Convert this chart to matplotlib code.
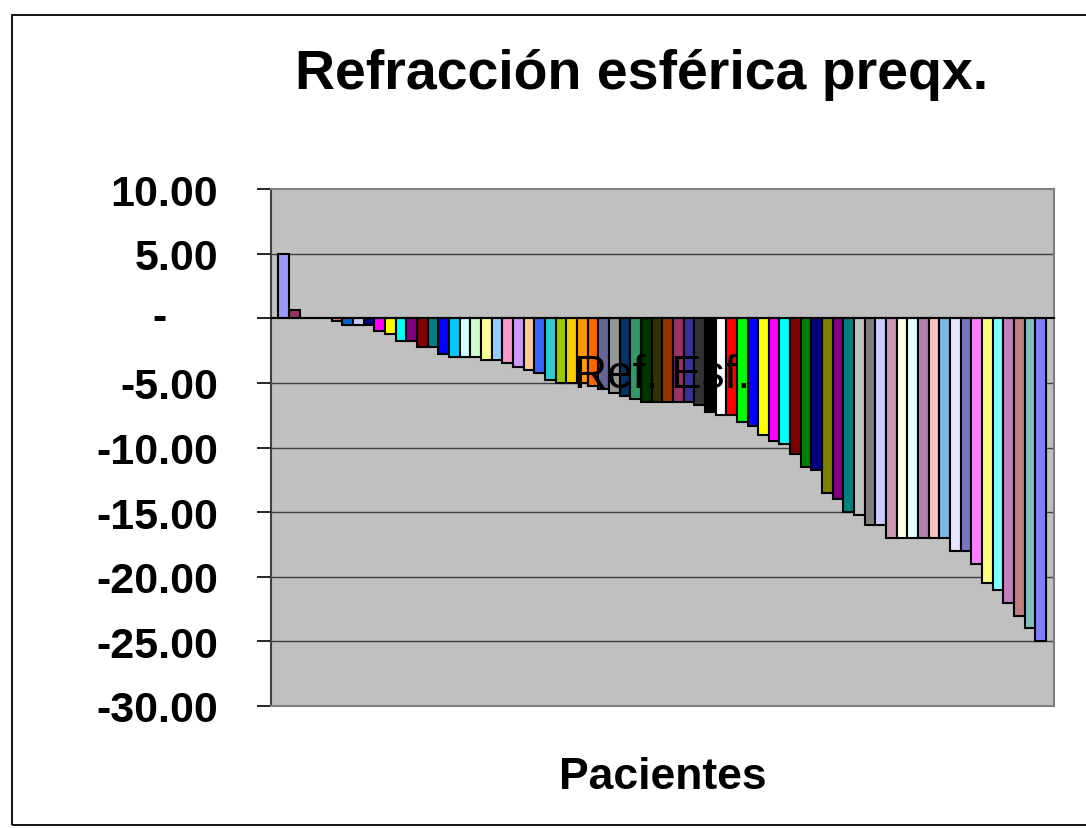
import numpy as np
import matplotlib
matplotlib.use("Agg")
import matplotlib.pyplot as plt
from matplotlib.patches import Rectangle
from matplotlib.transforms import offset_copy

# ---- data -------------------------------------------------------------
title = "Refracción esférica preqx."
x_title = "Pacientes"
category = "Ref. Esf."

# spherical refraction of each patient (dioptres), one series per patient
ref_esf = [
    5.0, 0.6, 0.0, 0.0, 0.0, -0.25, -0.5, -0.5, -0.5, -1.0,
    -1.25, -1.75, -1.75, -2.25, -2.25, -2.75, -3.0, -3.0, -3.0, -3.25,
    -3.25, -3.5, -3.75, -4.0, -4.25, -4.75, -5.0, -5.0, -5.0, -5.25,
    -5.5, -5.75, -6.0, -6.25, -6.5, -6.5, -6.5, -6.5, -6.5, -6.75,
    -7.25, -7.5, -7.5, -8.0, -8.37, -9.0, -9.5, -9.75, -10.5, -11.5,
    -11.75, -13.5, -14.0, -15.0, -15.25, -16.0, -16.0, -17.0, -17.0, -17.0,
    -17.0, -17.0, -17.0, -18.0, -18.0, -19.0, -20.5, -21.0, -22.0, -23.0,
    -24.0, -25.0,
]

series_colors = [
    "#9999FF", "#993366", "#FFFFCC", "#CCFFFF", "#660066", "#FF8080", "#0066CC", "#CCCCFF",
    "#000080", "#FF00FF", "#FFFF00", "#00FFFF", "#800080", "#800000", "#008080", "#0000FF",
    "#00CCFF", "#CCFFFF", "#CCFFCC", "#FFFF99", "#99CCFF", "#FF99CC", "#CC99FF", "#FFCC99",
    "#3366FF", "#33CCCC", "#99CC00", "#FFCC00", "#FF9900", "#FF6600", "#666699", "#969696",
    "#003366", "#339966", "#003300", "#333300", "#993300", "#993366", "#333399", "#333333",
    "#000000", "#FFFFFF", "#FF0000", "#00FF00", "#0000FF", "#FFFF00", "#FF00FF", "#00FFFF",
    "#800000", "#008000", "#000080", "#808000", "#800080", "#008080", "#C0C0C0", "#808080",
    "#CCCCFF", "#CC99B2", "#FFFFE6", "#E6FFFF", "#B07FB0", "#FFC0C0", "#80B3E6", "#E6E6FF",
    "#7878C0", "#FF80FF", "#FFFF80", "#80FFFF", "#C080C0", "#C08080", "#80C0C0", "#8080FF",
]

y_ticks = [10, 5, 0, -5, -10, -15, -20, -25, -30]
y_tick_labels = ["10.00", "5.00", "", "-5.00", "-10.00", "-15.00", "-20.00", "-25.00", "-30.00"]
zero_label = "-"

# ---- figure -----------------------------------------------------------
W, H = 1086, 829
fig = plt.figure(figsize=(W / 100, H / 100), dpi=100, facecolor="white")

def fx(px):
    return px / W

def fy(py):
    return 1 - py / H

# chart area frame (runs off the right edge)
fig.patches.append(Rectangle((fx(12), fy(826)), fx(1100) - fx(12), fy(16) - fy(826),
                             transform=fig.transFigure, fill=False,
                             edgecolor="black", linewidth=1.3, zorder=0))

ax = fig.add_axes([fx(271), fy(707), fx(1054) - fx(271), fy(190) - fy(707)])
ax.set_facecolor("#C0C0C0")

x = np.arange(len(ref_esf))
ax.bar(x, ref_esf, width=1.0, color=series_colors, edgecolor="black",
       linewidth=1.5, zorder=3)

ax.set_xlim(-1.2, len(ref_esf) + 0.25)
ax.set_ylim(min(y_ticks), max(y_ticks))

# gridlines
for t in y_ticks:
    if t not in (0, min(y_ticks), max(y_ticks)):
        ax.axhline(t, color="#404040", linewidth=1.0, zorder=1)

# spines
for s in ("top", "right"):
    ax.spines[s].set_color("#808080")
    ax.spines[s].set_linewidth(1.5)
ax.spines["left"].set_color("#404040")
ax.spines["left"].set_linewidth(1.5)
ax.spines["bottom"].set_position(("data", 0))
ax.spines["bottom"].set_color("black")
ax.spines["bottom"].set_linewidth(1.5)
ax.spines["bottom"].set_zorder(4)
# bottom border of the plotting area
ax.plot([0, 1], [0, 0], transform=ax.transAxes, color="#808080",
        linewidth=1.5, clip_on=False, zorder=5)

ax.set_yticks(y_ticks)
ax.set_yticklabels(y_tick_labels, fontfamily="Liberation Sans",
                   fontweight="bold", fontsize=31)
ax.tick_params(axis="y", direction="out", length=10, width=1.2, color="black", pad=28)

xlo, xhi = ax.get_xlim()
ax.set_xticks([xlo, xhi])
ax.set_xticklabels(["", ""])
ax.tick_params(axis="x", direction="out", length=8, width=1.2, color="black")

# "-" label at zero, accounting style
trans = offset_copy(ax.get_yaxis_transform(), fig=fig, x=-(271 - 160) * 0.72, units="points")
ax.text(0, 0, zero_label, transform=trans, ha="center", va="center",
        fontfamily="Liberation Sans", fontweight="bold", fontsize=31, clip_on=False)

# category label
ax.text(np.mean(x), -4.4, category, ha="center", va="center",
        fontfamily="Liberation Sans", fontsize=33, color="black", zorder=6)

fig.text(fx(642), fy(75), title, ha="center", va="center",
         fontfamily="Liberation Sans", fontweight="bold", fontsize=40)
fig.text(fx(663), fy(778), x_title, ha="center", va="center",
         fontfamily="Liberation Sans", fontweight="bold", fontsize=32)

fig.savefig("out.png", dpi=100, facecolor="white")
